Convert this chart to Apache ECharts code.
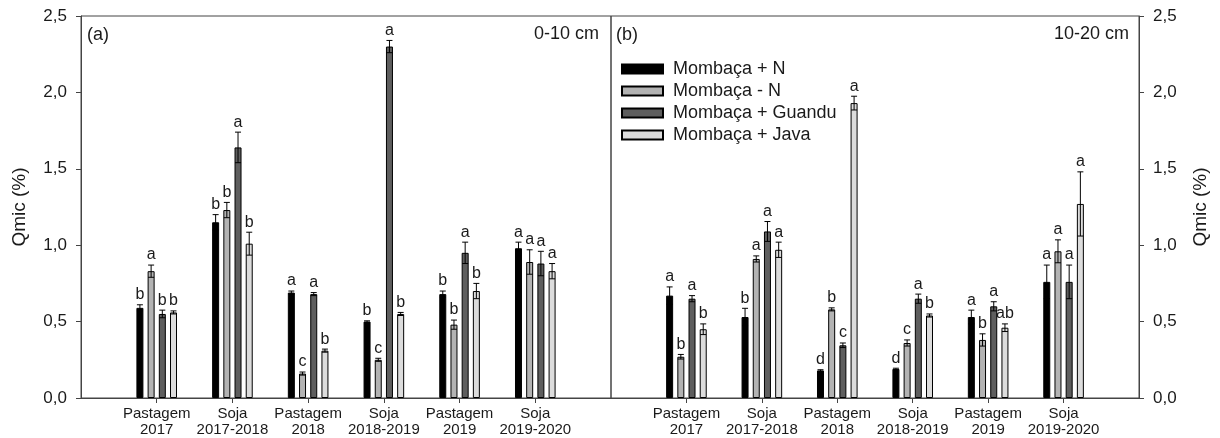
<!DOCTYPE html>
<html>
<head>
<meta charset="utf-8">
<script src="https://cdn.jsdelivr.net/npm/echarts@6/dist/echarts.min.js"></script>
<style>
  html, body { margin: 0; padding: 0; background: #fff; }
  #chart { width: 1220px; height: 438px; }
</style>
</head>
<body>
<div id="chart"></div>
<script>
// categorias do eixo x (posições 1..6; 0 e 7 ficam vazias nas bordas)
const categories = ['Pastagem\n2017', 'Soja\n2017-2018', 'Pastagem\n2018', 'Soja\n2018-2019', 'Pastagem\n2019', 'Soja\n2019-2020'];
const seriesNames = ['Mombaça + N', 'Mombaça - N', 'Mombaça + Guandu', 'Mombaça + Java'];
const yTicks = [0, 0.5, 1.0, 1.5, 2.0, 2.5];

// 0-10 cm: médias, erro padrão e letras (uma linha por tratamento)
const mean0_10 = [
  [0.59, 1.15, 0.69, 0.50, 0.68, 0.98],
  [0.83, 1.23, 0.16, 0.25, 0.48, 0.89],
  [0.55, 1.64, 0.68, 2.30, 0.95, 0.88],
  [0.56, 1.01, 0.31, 0.55, 0.70, 0.83]
];
const err0_10 = [
  [0.02, 0.05, 0.01, 0.005, 0.02, 0.04],
  [0.04, 0.05, 0.01, 0.01, 0.03, 0.08],
  [0.025, 0.10, 0.01, 0.04, 0.07, 0.08],
  [0.01, 0.075, 0.01, 0.01, 0.05, 0.05]
];
const letters0_10 = [
  ['b', 'b', 'a', 'b', 'b', 'a'],
  ['a', 'b', 'c', 'c', 'b', 'a'],
  ['b', 'a', 'a', 'a', 'a', 'a'],
  ['b', 'b', 'b', 'b', 'b', 'a']
];

// 10-20 cm
const mean10_20 = [
  [0.67, 0.53, 0.18, 0.19, 0.53, 0.76],
  [0.27, 0.91, 0.58, 0.36, 0.38, 0.96],
  [0.65, 1.09, 0.345, 0.65, 0.60, 0.76],
  [0.45, 0.97, 1.93, 0.54, 0.46, 1.27]
];
const err10_20 = [
  [0.057, 0.057, 0.005, 0.005, 0.045, 0.11],
  [0.015, 0.02, 0.01, 0.02, 0.04, 0.075],
  [0.02, 0.065, 0.015, 0.03, 0.03, 0.11],
  [0.035, 0.05, 0.045, 0.01, 0.025, 0.21]
];
const letters10_20 = [
  ['a', 'b', 'd', 'd', 'a', 'a'],
  ['b', 'a', 'b', 'c', 'b', 'a'],
  ['a', 'a', 'c', 'a', 'a', 'a'],
  ['b', 'a', 'a', 'b', 'ab', 'a']
];

const colors = ['#000000', '#b3b3b3', '#5e5e5e', '#dcdcdc'];
const FONT = '"Liberation Sans", Arial, sans-serif';
const BAR_W = 7;
const BAR_GAP = 0.6;
const CAP = 6;

const chart = echarts.init(document.getElementById('chart'));

const xData = [''].concat(categories, ['']);

const makeXAxis = (gridIndex) => ({
  type: 'category',
  gridIndex: gridIndex,
  data: xData,
  boundaryGap: false,
  axisLine: { lineStyle: { color: '#444', width: 1 } },
  axisTick: {
    length: 5,
    interval: (idx) => idx > 0 && idx < xData.length - 1,
    lineStyle: { color: '#444' }
  },
  axisLabel: {
    interval: 0,
    margin: 8,
    fontSize: 15,
    lineHeight: 16,
    color: '#1a1a1a',
    fontFamily: FONT
  },
  splitLine: { show: false }
});

const makeYAxis = (gridIndex, position) => ({
  type: 'value',
  gridIndex: gridIndex,
  position: position,
  min: 0,
  max: 2.5,
  interval: 0.5,
  name: 'Qmic (%)',
  nameLocation: 'middle',
  nameRotate: 90,
  nameGap: 52,
  nameTextStyle: { fontSize: 19, color: '#1a1a1a', fontFamily: FONT },
  axisLine: { show: true, lineStyle: { color: '#444', width: 1 } },
  axisTick: { show: true, length: 5, lineStyle: { color: '#444' } },
  axisLabel: {
    margin: 14,
    fontSize: 17,
    color: '#1a1a1a',
    fontFamily: FONT,
    formatter: (v) => v.toFixed(1).replace('.', ',')
  },
  splitLine: { show: false }
});

// barras de erro + letras desenhadas por série custom
const errRenderer = (s, letters) => (params, api) => {
  const x = api.value(0);
  const v = api.value(1);
  const e = api.value(2);
  const off = (s - 1.5) * BAR_W * (1 + BAR_GAP);
  const top = api.coord([x, v + e]);
  const bot = api.coord([x, v - e]);
  const cx = top[0] + off;
  const h = CAP / 2;
  const st = { stroke: '#000', lineWidth: 1 };
  return {
    type: 'group',
    children: [
      { type: 'line', shape: { x1: cx, y1: top[1], x2: cx, y2: bot[1] }, style: st },
      { type: 'line', shape: { x1: cx - h, y1: top[1], x2: cx + h, y2: top[1] }, style: st },
      { type: 'line', shape: { x1: cx - h, y1: bot[1], x2: cx + h, y2: bot[1] }, style: st },
      {
        type: 'text',
        style: {
          text: letters[s][params.dataIndex],
          x: cx,
          y: top[1] - 2,
          align: 'center',
          verticalAlign: 'bottom',
          fontSize: 16,
          fontFamily: FONT,
          fill: '#1a1a1a'
        }
      }
    ]
  };
};

const series = [];
[[mean0_10, err0_10, letters0_10], [mean10_20, err10_20, letters10_20]].forEach(([means, errs, letters], g) => {
  means.forEach((vals, s) => {
    series.push({
      name: seriesNames[s],
      type: 'bar',
      xAxisIndex: g,
      yAxisIndex: g,
      barWidth: BAR_W,
      barGap: (BAR_GAP * 100) + '%',
      data: ['-'].concat(vals, ['-']),
      itemStyle: { color: colors[s], borderColor: '#000', borderWidth: 1 },
      silent: true
    });
  });
  means.forEach((vals, s) => {
    series.push({
      type: 'custom',
      xAxisIndex: g,
      yAxisIndex: g,
      renderItem: errRenderer(s, letters),
      data: vals.map((v, i) => [i + 1, v, errs[s][i]]),
      encode: { x: 0, y: 1 },
      z: 10,
      silent: true
    });
  });
});

const option = {
  animation: false,
  backgroundColor: '#ffffff',
  grid: [
    { left: 81, right: 609, top: 16, bottom: 40, show: true, borderColor: '#444', borderWidth: 1 },
    { left: 611, right: 81, top: 16, bottom: 40, show: true, borderColor: '#444', borderWidth: 1 }
  ],
  xAxis: [makeXAxis(0), makeXAxis(1)],
  yAxis: [makeYAxis(0, 'left'), makeYAxis(1, 'right')],
  legend: {
    data: seriesNames,
    orient: 'vertical',
    left: 621,
    top: 60,
    padding: 0,
    itemWidth: 41,
    itemHeight: 9,
    itemGap: 4,
    icon: 'rect',
    formatter: (name) => ' ' + name,
    textStyle: { fontSize: 18, lineHeight: 18, color: '#1a1a1a', fontFamily: FONT },
    selectedMode: false
  },
  graphic: [
    { type: 'text', left: 87, top: 26, style: { text: '(a)', fontSize: 18, fontFamily: FONT, fill: '#1a1a1a' } },
    { type: 'text', right: 1220 - 599, top: 25, style: { text: '0-10 cm', fontSize: 18, fontFamily: FONT, fill: '#1a1a1a' } },
    { type: 'text', left: 616, top: 26, style: { text: '(b)', fontSize: 18, fontFamily: FONT, fill: '#1a1a1a' } },
    { type: 'text', right: 1220 - 1129, top: 25, style: { text: '10-20 cm', fontSize: 18, fontFamily: FONT, fill: '#1a1a1a' } }
  ],
  series: series
};

chart.setOption(option);
</script>
</body>
</html>
